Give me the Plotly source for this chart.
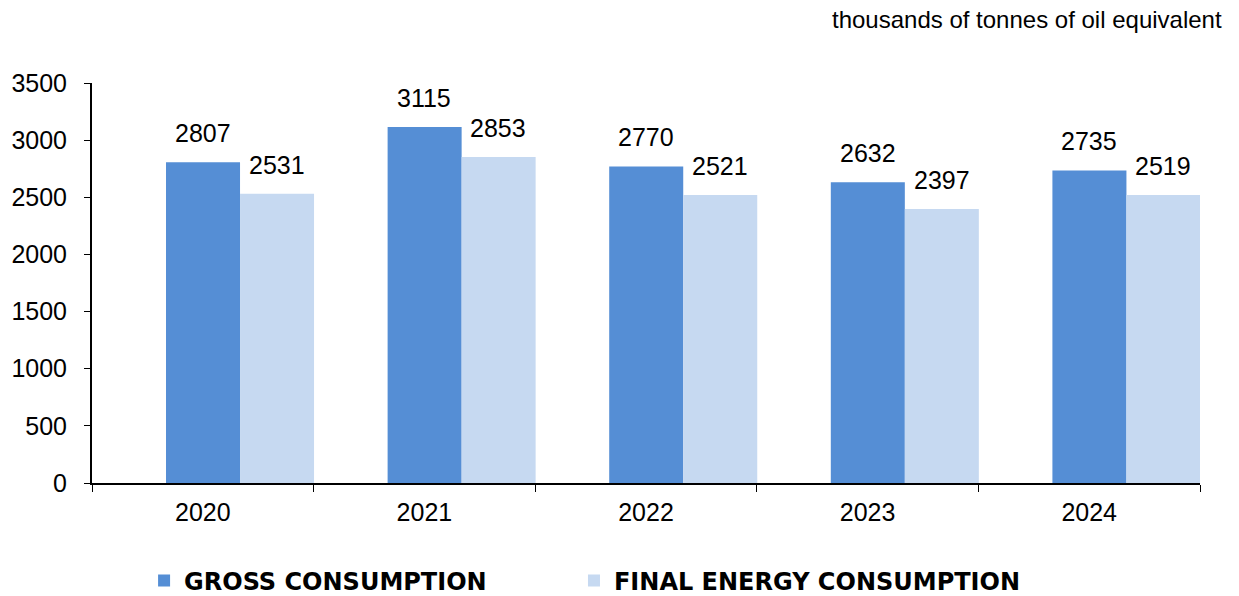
import plotly.graph_objects as go

years = ["2020", "2021", "2022", "2023", "2024"]
gross = [2807, 3115, 2770, 2632, 2735]
final = [2531, 2853, 2521, 2397, 2519]
y_ticks = [0, 500, 1000, 1500, 2000, 2500, 3000, 3500]

BAR_W = 0.334

fig = go.Figure()
fig.add_trace(go.Bar(x=years, y=gross, name="GROSS CONSUMPTION", marker_color="#558ED5",
                     marker_line_width=0, width=BAR_W, offset=-0.5 + BAR_W, legend="legend"))
fig.add_trace(go.Bar(x=years, y=final, name="FINAL ENERGY CONSUMPTION", marker_color="#C6D9F1",
                     marker_line_width=0, width=BAR_W, offset=-0.5 + 2 * BAR_W, legend="legend2"))

for i, (g, f) in enumerate(zip(gross, final)):
    fig.add_annotation(x=i, y=g, text=str(g), xref="x", yref="y", showarrow=False,
                       xshift=0, yshift=13, yanchor="bottom", font=dict(size=25, color="black"))
    fig.add_annotation(x=i, y=f, text=str(f), xref="x", yref="y", showarrow=False,
                       xshift=74, yshift=13, yanchor="bottom", font=dict(size=25, color="black"))

fig.add_annotation(text="thousands of tonnes of oil equivalent", xref="paper", yref="paper",
                   x=1.022, y=1.0, yshift=64, xanchor="right", yanchor="middle", showarrow=False,
                   font=dict(size=24, color="black"))

legend_font = dict(size=24, color="black", family="DejaVu Sans", weight="bold")

fig.update_layout(
    width=1231, height=588,
    margin=dict(l=84, r=39, t=75, b=113, autoexpand=False),
    paper_bgcolor="white", plot_bgcolor="white",
    barmode="overlay",
    font=dict(family="Liberation Sans, Arial, sans-serif", color="black"),
    showlegend=True,
    legend=dict(orientation="h", x=0.047, y=-0.245, xanchor="left", yanchor="middle",
                font=legend_font, itemwidth=30),
    legend2=dict(orientation="h", x=0.435, y=-0.245, xanchor="left", yanchor="middle",
                 font=legend_font, itemwidth=30),
    xaxis=dict(type="category", range=[-0.5, 4.5], showline=True, linecolor="black", linewidth=2,
               ticks="outside", ticklen=7, tickcolor="black", tickson="boundaries",
               tickfont=dict(size=25), showgrid=False, ticklabelstandoff=6, automargin=False),
    yaxis=dict(range=[0, 3500], tickvals=y_ticks, showline=True, linecolor="black", linewidth=2,
               ticks="outside", ticklen=6, tickcolor="black", tickfont=dict(size=25),
               showgrid=False, zeroline=False, ticklabelstandoff=12, automargin=False),
)

fig.write_html("out.html")
